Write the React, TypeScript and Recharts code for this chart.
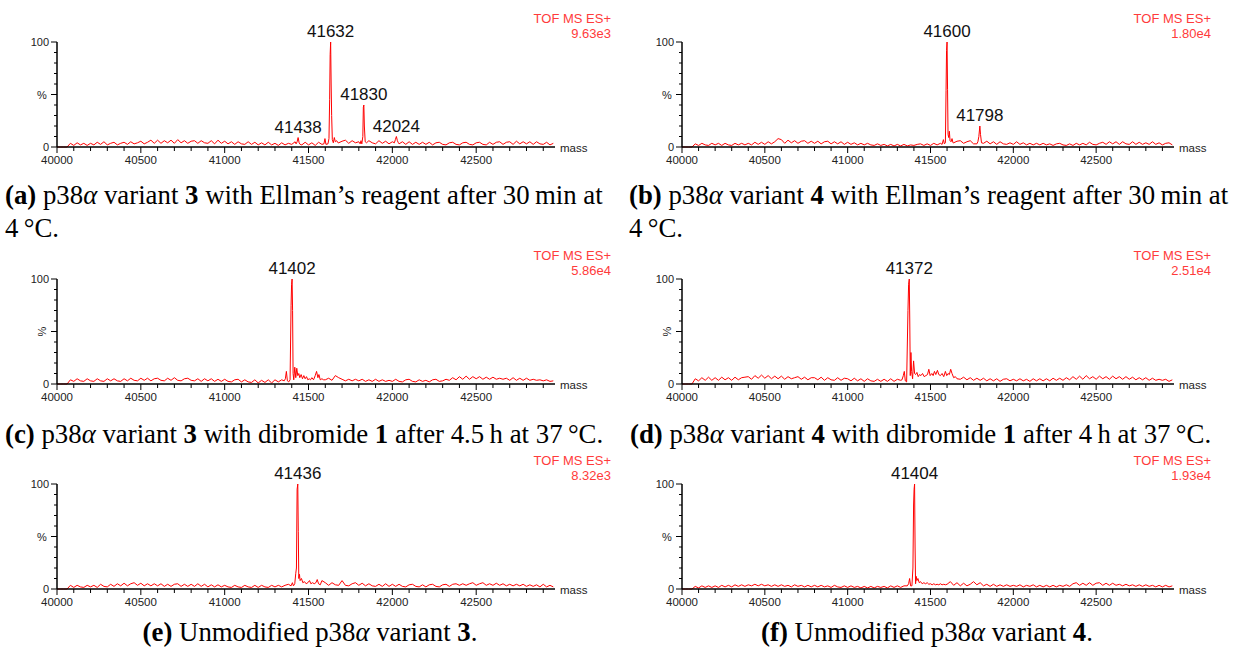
import React from 'react';
import { LineChart, Line, XAxis, YAxis, ReferenceDot } from 'recharts';

// mass grid of the baseline arrays
const MASS_START = 40000;
const MASS_STEP = 20;
const MASS_DOMAIN = [40000, 42970];
const X_TICKS = Array.from({ length: 30 }, (_, i) => 40000 + i * 100);
const Y_TICKS = [0, 10, 20, 30, 40, 50, 60, 70, 80, 90, 100];

// (a) variant 3 + Ellman's reagent, 30 min, 4 C
const A_BASE = [
  0, 0, 0, 0, 3.5, 1.5, 4, 2, 3.5, 1.5,
  3.5, 2, 4.5, 2.5, 5, 2, 3.5, 4.5, 2, 3.5,
  4.5, 2.5, 5, 3, 4, 5.5, 3, 4.5, 6.5, 3.5,
  6.5, 3.5, 6, 4, 6.5, 3.5, 7, 4, 6, 3.5,
  5.5, 6, 3.5, 6, 4, 3.5, 6, 3, 6.5, 3.5,
  5.5, 3, 5, 2.5, 5, 3, 2.5, 5, 2.5, 4.5,
  2, 4, 2, 4.5, 2, 3.5, 1.5, 4, 2, 3.5,
  2.5, 5, 2.5, 2, 4.5, 2, 4, 1.5, 4.5, 2.5,
  5, 2.5, 5, 7, 4, 5.5, 6.5, 3.5, 6, 4,
  5, 2.5, 5, 6, 4, 3, 6, 3.5, 5.5, 3,
  5, 6, 3, 5, 2.5, 5, 2.5, 4.5, 2.5, 4.5,
  2.5, 4.5, 2, 4, 4.5, 2.5, 2, 4, 4.5, 2.5,
  2, 4, 4.5, 2.5, 2, 4, 4.5, 2.5, 2, 4.5,
  2.5, 4.5, 5, 2.5, 4.5, 5, 2.5, 5.5, 3, 5,
  3, 5, 2.5, 5, 3, 2.5, 4.5, 2, 3.5,
];
const A_PEAKS = [
  [[41426, 3], [41432, 5], [41438, 9], [41444, 4], [41450, 2.5]],
  [[41592, 3], [41598, 8], [41604, 2.5], [41616, 3], [41622, 8], [41626, 45], [41629, 88], [41632, 100], [41635, 60], [41638, 30], [41642, 7], [41648, 4], [41654, 9], [41660, 5], [41668, 6], [41676, 4]],
  [[41808, 3], [41813, 6], [41818, 3], [41824, 10], [41827, 38], [41830, 40], [41833, 20], [41838, 5], [41846, 4]],
  [[42012, 4], [42018, 7], [42024, 10], [42030, 6], [42036, 4]],
];
const A_LABELS = [41632, 41830, 41438, 42024];

// (b) variant 4 + Ellman's reagent
const B_BASE = [
  0, 0, 0, 0, 3, 1.5, 3.5, 2, 1.5, 3.5,
  2, 3.5, 1.5, 3.5, 2, 1.5, 3.5, 2, 3.5, 2,
  3.5, 2, 4.5, 2.5, 4.5, 2.5, 5, 3, 5, 8,
  7, 3.5, 6.5, 4, 6, 3.5, 5.5, 6, 3.5, 5.5,
  3.5, 5.5, 3, 5, 5.5, 3, 5, 3, 5, 2.5,
  4.5, 2.5, 4, 2, 3.5, 2, 3.5, 2, 1.5, 3,
  1.5, 2.5, 1, 2.5, 1, 2.5, 1, 2.5, 1, 2,
  1.5, 2.5, 3, 1.5, 3, 1.5, 3.5, 2, 3.5, 4,
  5, 7, 4, 5.5, 6, 3.5, 5, 6, 3, 5,
  6, 3.5, 5.5, 3, 5, 2.5, 5, 3, 2.5, 4,
  2.5, 5, 2.5, 4, 2, 3.5, 2, 3.5, 2, 3.5,
  2, 3, 1.5, 3, 3.5, 2, 1.5, 3, 1.5, 3.5,
  2, 3.5, 2, 4.5, 2.5, 2, 3.5, 4.5, 2.5, 5,
  3, 5, 2.5, 5, 3, 2.5, 5, 2.5, 4.5, 2.5,
  4, 2.5, 5, 2.5, 4, 2, 3.5, 4, 2,
];
const B_PEAKS = [
  [[41570, 2.5], [41578, 7], [41584, 3], [41590, 4], [41594, 54], [41597, 92], [41600, 100], [41603, 55], [41606, 12], [41610, 9], [41614, 15], [41618, 6], [41624, 5], [41630, 8], [41636, 4]],
  [[41780, 3], [41786, 5], [41792, 10], [41798, 20], [41802, 12], [41808, 4]],
];
const B_LABELS = [41600, 41798];

// (c) variant 3 + dibromide 1, 4.5 h
const C_BASE = [
  0, 0, 0, 0, 4, 2.5, 5, 3, 2.5, 5,
  3, 2.5, 5, 3, 2.5, 5, 3, 5, 3, 2.5,
  5, 3, 5.5, 3.5, 3, 5.5, 3.5, 5.5, 3, 5,
  5.5, 3.5, 3, 5.5, 3.5, 6, 3.5, 3, 5, 5.5,
  3.5, 3, 5, 2.5, 5, 3, 5, 2.5, 4.5, 2.5,
  4.5, 2.5, 2, 4, 4.5, 2, 4, 2, 1.5, 4,
  1, 3.5, 1.5, 4, 1, 4, 2, 4, 5, 2.5,
  5, 8, 7, 6, 9, 7, 5, 6, 7, 5,
  4, 5.5, 3.5, 8, 6, 4.5, 3, 4.5, 3, 4.5,
  3, 4.5, 2.5, 4, 2.5, 4.5, 2.5, 4, 2.5, 3.5,
  2.5, 4.5, 2.5, 2, 4, 4.5, 2.5, 2, 4, 2.5,
  3.5, 2, 4, 4.5, 2.5, 3, 4.5, 3.5, 6, 4,
  7, 4.5, 7.5, 4.5, 7, 5, 7, 4.5, 6.5, 4.5,
  6.5, 4.5, 5.5, 4.5, 5.5, 3.5, 6, 3.5, 5.5, 3.5,
  5.5, 3.5, 4.5, 3.5, 4, 3, 4, 2.5, 3,
];
const C_PEAKS = [
  [[41355, 3], [41362, 5], [41368, 12], [41374, 3], [41382, 2], [41390, 4], [41396, 75], [41399, 95], [41402, 100], [41405, 70], [41408, 10], [41412, 4], [41418, 16], [41424, 6], [41430, 15], [41436, 8], [41442, 10], [41448, 6], [41456, 9], [41464, 5], [41472, 8], [41480, 5], [41488, 7], [41496, 4], [41504, 5], [41512, 4], [41520, 6], [41530, 4], [41540, 8], [41548, 12], [41556, 6], [41562, 9], [41570, 4], [41580, 5], [41590, 4]],
];
const C_LABELS = [41402];

// (d) variant 4 + dibromide 1, 4 h
const D_BASE = [
  0, 0, 0, 0, 5, 3, 6, 3.5, 6.5, 3.5,
  6, 3.5, 6.5, 4, 6, 3.5, 6.5, 4, 6, 6.5,
  7, 4.5, 8, 5.5, 8.5, 5.5, 8, 5, 7.5, 5,
  7.5, 4.5, 7, 5, 6, 7, 4.5, 6.5, 4, 6,
  6, 4, 6.5, 3.5, 6, 4, 3.5, 6, 3.5, 5.5,
  5, 3, 5.5, 3, 5, 2.5, 5, 3, 2.5, 4.5,
  2.5, 4.5, 2.5, 5, 2.5, 4.5, 5, 3, 5, 4,
  20, 12, 9, 8, 10, 14, 11, 10, 13, 9,
  12, 14, 8, 6, 4.5, 6.5, 4, 6, 3.5, 5.5,
  3.5, 5.5, 3, 5, 3, 5, 2.5, 4.5, 5, 3,
  4.5, 3, 5, 3, 4.5, 2.5, 5, 3, 5, 3,
  5, 3, 5.5, 3.5, 5.5, 3.5, 6, 4, 7, 4.5,
  7.5, 4.5, 8, 5, 7, 4.5, 7.5, 5, 7, 4.5,
  7.5, 5, 7, 4.5, 7, 4.5, 6.5, 4, 6, 4,
  6, 3.5, 5.5, 3.5, 4.5, 3.5, 4.5, 2.5, 4,
];
const D_PEAKS = [
  [[41320, 3.5], [41328, 4], [41336, 8], [41342, 12], [41348, 3], [41356, 2], [41364, 70], [41368, 95], [41372, 100], [41375, 60], [41378, 8], [41382, 30], [41386, 12], [41392, 5], [41398, 22], [41404, 10], [41410, 9], [41418, 11], [41426, 7], [41434, 9], [41442, 8], [41452, 10], [41462, 7], [41472, 8], [41482, 9], [41490, 14], [41498, 8], [41508, 10], [41516, 8], [41524, 12], [41532, 9], [41542, 13], [41550, 9], [41560, 8], [41570, 10], [41580, 7], [41590, 12], [41598, 8], [41606, 10], [41614, 9], [41622, 14], [41630, 10], [41640, 6], [41650, 7], [41660, 5]],
];
const D_LABELS = [41372];

// (e) unmodified variant 3
const E_BASE = [
  0, 0, 0, 0, 3.5, 1.5, 3.5, 2, 1.5, 3.5,
  2, 3.5, 1.5, 4.5, 2.5, 2, 4.5, 2.5, 5, 3,
  5.5, 3, 5, 6, 3.5, 5.5, 3, 5, 3, 5,
  3, 5, 2.5, 4.5, 2.5, 4.5, 5, 2.5, 4.5, 2.5,
  4.5, 2.5, 5, 2.5, 4.5, 2, 4, 2, 4, 2,
  3.5, 2, 1.5, 3.5, 2, 1.5, 3.5, 2, 1.5, 3.5,
  1.5, 3.5, 2, 1.5, 3.5, 2, 3.5, 2, 3.5, 4.5,
  4, 5, 9, 8, 6, 5, 6, 7, 5, 8,
  6, 3.5, 6, 4, 3.5, 8, 3.5, 3, 5, 6,
  3.5, 5.5, 3, 5, 3, 2.5, 4.5, 2.5, 5, 2.5,
  4.5, 2.5, 4.5, 2.5, 2, 4, 4.5, 2.5, 2, 4,
  2, 4, 4.5, 2.5, 2, 4, 4.5, 2.5, 4.5, 5,
  3.5, 5, 3.5, 5, 6, 3.5, 5, 6, 3.5, 5,
  3.5, 5.5, 3.5, 5, 3, 4.5, 3, 4.5, 3, 4.5,
  2.5, 4, 2.5, 4, 2, 4.5, 2, 3.5, 2,
];
const E_PEAKS = [
  [[41396, 3], [41404, 6], [41410, 3], [41418, 5], [41424, 15], [41428, 20], [41432, 95], [41436, 100], [41439, 55], [41442, 10], [41446, 14], [41450, 8], [41458, 10], [41466, 6], [41476, 7], [41486, 5], [41496, 6], [41506, 8], [41514, 5], [41524, 6], [41534, 5], [41544, 6], [41552, 9], [41560, 5], [41570, 4]],
];
const E_LABELS = [41436];

// (f) unmodified variant 4
const F_BASE = [
  0, 0, 0, 0, 2.5, 1, 3, 1.5, 3, 1.5,
  3, 1.5, 3.5, 2, 3.5, 2, 4, 2.5, 4, 2.5,
  4, 3, 4.5, 3, 4.5, 3, 4, 2.5, 4, 2.5,
  4, 2.5, 3.5, 2, 4, 2.5, 3.5, 2, 3.5, 2,
  3.5, 2, 3.5, 2, 3, 1.5, 3.5, 2, 1.5, 3,
  1.5, 3, 1.5, 2.5, 1, 2.5, 1, 2.5, 1, 2.5,
  1.5, 2.5, 1, 3, 1.5, 3, 1.5, 3, 2, 5,
  5, 5, 5, 5, 5, 5, 5, 5, 5, 5,
  4.5, 7, 3.5, 6, 3, 5.5, 3, 4.5, 7, 4,
  6, 3, 4.5, 2.5, 4.5, 2.5, 4, 2.5, 4, 2.5,
  3.5, 2.5, 4, 2, 3.5, 2.5, 4, 2, 3.5, 2,
  3.5, 2, 3.5, 2, 3.5, 2.5, 4, 2.5, 5, 6,
  3.5, 5.5, 3.5, 6, 3.5, 5.5, 6, 3.5, 5.5, 3.5,
  5.5, 3.5, 4.5, 3, 4.5, 3, 4, 2.5, 4, 2.5,
  4, 2.5, 3.5, 2, 3.5, 2, 3.5, 2, 3,
];
const F_PEAKS = [
  [[41360, 3], [41368, 5], [41374, 10], [41380, 3], [41388, 3], [41394, 20], [41398, 80], [41401, 95], [41404, 100], [41407, 40], [41410, 5], [41414, 12], [41418, 8], [41424, 10], [41432, 6], [41440, 7], [41450, 5], [41460, 6], [41470, 5], [41480, 6], [41490, 4.5], [41500, 5], [41510, 4], [41520, 5], [41530, 4], [41540, 4.5], [41550, 4], [41560, 5], [41570, 4], [41580, 4.5], [41590, 4]],
];
const F_LABELS = [41404];

const TOF = ['9.63e3', '1.80e4', '5.86e4', '2.51e4', '8.32e3', '1.93e4'];

type Pt = { mass: number; pct: number };

function buildSpectrum(base: number[], peaks: number[][][]): Pt[] {
  const spans = peaks.map((p) => [p[0][0], p[p.length - 1][0]]);
  const pts: Pt[] = base
    .map((v, i) => ({ mass: MASS_START + i * MASS_STEP, pct: v }))
    .filter((d) => !spans.some(([a, b]) => d.mass >= a && d.mass <= b));
  peaks.forEach((p) => p.forEach(([m, v]) => pts.push({ mass: m, pct: v })));
  return pts.sort((a, b) => a.mass - b.mass);
}

const SANS = '"Liberation Sans", Arial, sans-serif';
const SERIF = '"Liberation Serif", "Times New Roman", serif';

const XTick = (props: any) => {
  const { x, y, payload } = props;
  const major = payload.value % 500 === 0;
  return (
    <g>
      <line x1={x} x2={x} y1={y} y2={y + (major ? 6 : 4)} stroke="#000" strokeWidth={1} />
      {major && (
        <text x={x} y={y + 13} textAnchor="middle" dominantBaseline="central" fontSize={11.5} fill="#222" fontFamily={SANS}>
          {payload.value}
        </text>
      )}
    </g>
  );
};

const makeYTick = (rotPct: boolean) => (props: any) => {
  const { x, y, payload } = props;
  const v = payload.value;
  const major = v === 0 || v === 50 || v === 100;
  let label: React.ReactNode = null;
  if (v === 0 || v === 100) {
    label = (
      <text x={x - 8} y={y} textAnchor="end" dominantBaseline="central" fontSize={11} fill="#222" fontFamily={SANS}>
        {v}
      </text>
    );
  } else if (v === 50) {
    label = (
      <text
        x={x - 15}
        y={y}
        textAnchor="middle"
        dominantBaseline="central"
        fontSize={11}
        fill="#222"
        fontFamily={SANS}
        transform={rotPct ? `rotate(-90 ${x - 15} ${y})` : undefined}
      >
        %
      </text>
    );
  }
  return (
    <g>
      <line x1={x} x2={x - (major ? 6 : 3)} y1={y} y2={y} stroke="#000" strokeWidth={1} />
      {label}
    </g>
  );
};

const PeakLabel = (props: any) => {
  const { viewBox, value } = props;
  return (
    <text x={viewBox.x} y={viewBox.y - 5} textAnchor="middle" fontSize={17} fill="#111" fontFamily={SANS}>
      {value}
    </text>
  );
};

const PANELS = [
  { base: A_BASE, peaks: A_PEAKS, labels: A_LABELS, px: 57, py: 42, pw: 498, rot: false },
  { base: B_BASE, peaks: B_PEAKS, labels: B_LABELS, px: 682, py: 42, pw: 492, rot: false },
  { base: C_BASE, peaks: C_PEAKS, labels: C_LABELS, px: 57, py: 279, pw: 498, rot: true },
  { base: D_BASE, peaks: D_PEAKS, labels: D_LABELS, px: 682, py: 279, pw: 492, rot: true },
  { base: E_BASE, peaks: E_PEAKS, labels: E_LABELS, px: 57, py: 484, pw: 498, rot: false },
  { base: F_BASE, peaks: F_PEAKS, labels: F_LABELS, px: 682, py: 484, pw: 492, rot: false },
];

const PH = 105;
const YW = 30;
const MT = 30;
const XH = 28;
const MR = 10;

function Spectrum({ panel, idx }: { panel: (typeof PANELS)[number]; idx: number }) {
  const data = buildSpectrum(panel.base, panel.peaks);
  const peakTop = (m: number) => Math.max(...data.filter((d) => Math.abs(d.mass - m) <= 4).map((d) => d.pct));
  const tofRight = panel.px < 300 ? 611 : 1211;
  return (
    <>
      <div style={{ position: 'absolute', left: panel.px - YW, top: panel.py - MT }}>
        <LineChart width={YW + panel.pw + MR} height={MT + PH + XH} data={data} margin={{ top: MT, right: MR, bottom: 0, left: 0 }}>
          <XAxis
            dataKey="mass"
            type="number"
            domain={MASS_DOMAIN}
            ticks={X_TICKS}
            interval={0}
            allowDataOverflow
            height={XH}
            tickSize={0}
            tickMargin={0}
            tickLine={false}
            tick={XTick}
            axisLine={{ stroke: '#000', strokeWidth: 1.5 }}
          />
          <YAxis
            type="number"
            domain={[0, 100]}
            ticks={Y_TICKS}
            interval={0}
            width={YW}
            tickSize={0}
            tickMargin={0}
            tickLine={false}
            tick={makeYTick(panel.rot)}
            axisLine={{ stroke: '#000', strokeWidth: 1.5 }}
          />
          <Line dataKey="pct" type="linear" stroke="#ff0000" strokeWidth={1} dot={false} isAnimationActive={false} />
          {panel.labels.map((m) => (
            <ReferenceDot key={m} x={m} y={peakTop(m)} r={0} stroke="none" fill="none" label={<PeakLabel value={String(m)} />} />
          ))}
        </LineChart>
      </div>
      <div style={{ position: 'absolute', left: panel.px + panel.pw + 5, top: panel.py + PH - 6, fontFamily: SANS, fontSize: 11.5, color: '#222', lineHeight: '14px' }}>
        mass
      </div>
      <div style={{ position: 'absolute', right: 1234 - tofRight, top: panel.py - 31, fontFamily: SANS, fontSize: 13, color: '#ff3b3b', lineHeight: '15px', textAlign: 'right' }}>
        TOF MS ES+
        <br />
        {TOF[idx]}
      </div>
    </>
  );
}

const capStyle: React.CSSProperties = { position: 'absolute', fontFamily: SERIF, fontSize: 26.8, lineHeight: '33px', color: '#000', whiteSpace: 'nowrap' };

export default function App() {
  return (
    <div style={{ position: 'absolute', left: 0, top: 0, width: 1234, height: 653, background: '#fff', overflow: 'hidden' }}>
      {PANELS.map((p, i) => (
        <Spectrum key={i} panel={p} idx={i} />
      ))}
      <div style={{ ...capStyle, left: 5, top: 179 }}>
        <b>(a)</b> p38<i>α</i> variant <b>3</b> with Ellman’s reagent after 30{'\u2009'}min at
        <br />4{'\u2009'}°C.
      </div>
      <div style={{ ...capStyle, left: 629, top: 179 }}>
        <b>(b)</b> p38<i>α</i> variant <b>4</b> with Ellman’s reagent after 30{'\u2009'}min at
        <br />4{'\u2009'}°C.
      </div>
      <div style={{ ...capStyle, left: 5, top: 418 }}>
        <b>(c)</b> p38<i>α</i> variant <b>3</b> with dibromide <b>1</b> after 4.5{'\u2009'}h at 37{'\u2009'}°C.
      </div>
      <div style={{ ...capStyle, left: 630, top: 418 }}>
        <b>(d)</b> p38<i>α</i> variant <b>4</b> with dibromide <b>1</b> after 4{'\u2009'}h at 37{'\u2009'}°C.
      </div>
      <div style={{ ...capStyle, left: 0, width: 620, textAlign: 'center', top: 616 }}>
        <b>(e)</b> Unmodified p38<i>α</i> variant <b>3</b>.
      </div>
      <div style={{ ...capStyle, left: 620, width: 614, textAlign: 'center', top: 616 }}>
        <b>(f)</b> Unmodified p38<i>α</i> variant <b>4</b>.
      </div>
    </div>
  );
}
